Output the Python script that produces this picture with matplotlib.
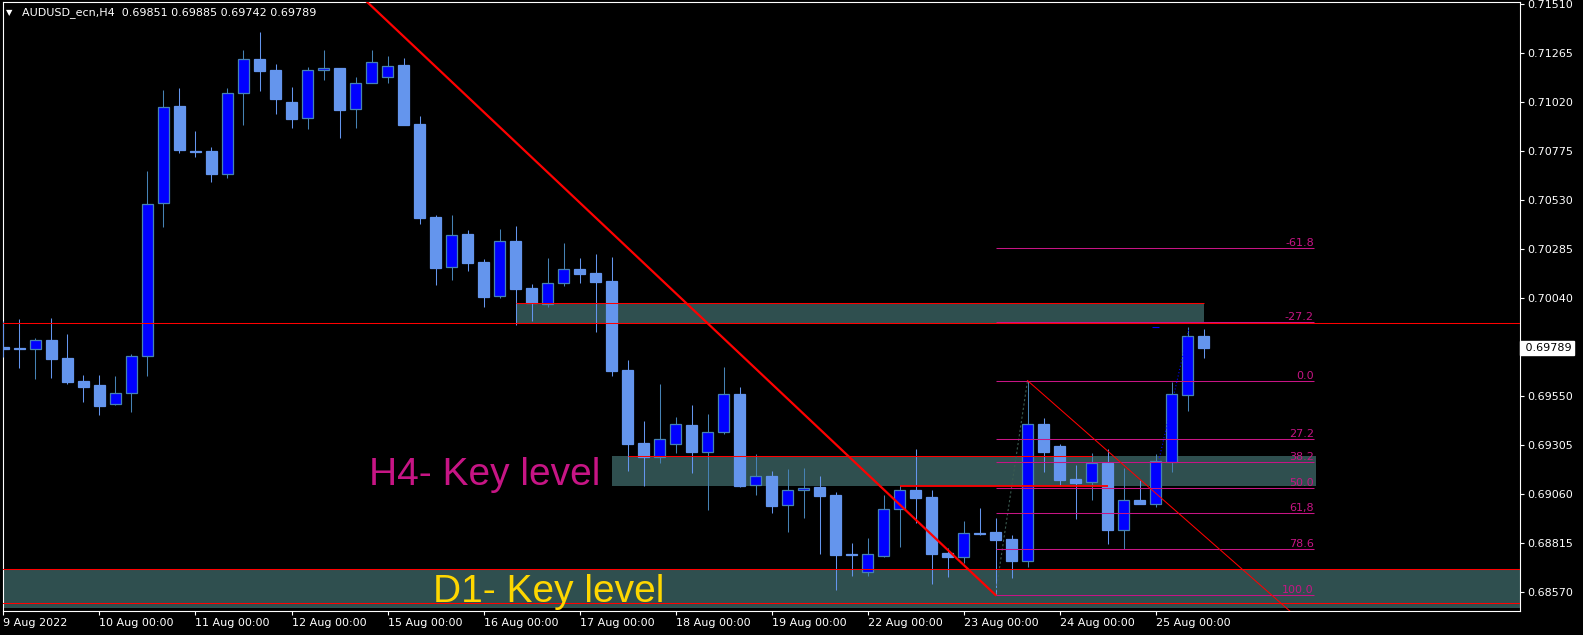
import matplotlib
matplotlib.use('Agg')
import matplotlib.pyplot as plt
import matplotlib.transforms as mtransforms
import numpy as np

# AUDUSD H4 candles, 9 Aug 2022 00:00 .. 25 Aug 2022 12:00
opens = [0.69795, 0.69790, 0.69784, 0.69829, 0.69739, 0.69625, 0.69605, 0.69509, 0.69564, 0.69749,
         0.70514, 0.71000, 0.70775, 0.70775, 0.70662, 0.71064, 0.71235, 0.71180, 0.71020, 0.70939,
         0.71179, 0.71190, 0.70984, 0.71114, 0.71144, 0.71205, 0.70910, 0.70445, 0.70194, 0.70360,
         0.70220, 0.70049, 0.70325, 0.70090, 0.70010, 0.70114, 0.70185, 0.70164, 0.70125, 0.69680,
         0.69314, 0.69247, 0.69309, 0.69404, 0.69272, 0.69369, 0.69560, 0.69104, 0.69150, 0.69004,
         0.69079, 0.69095, 0.69055, 0.68760, 0.68669, 0.68752, 0.68984, 0.69080, 0.69045, 0.68765,
         0.68747, 0.68867, 0.68870, 0.68835, 0.68727, 0.69410, 0.69300, 0.69137, 0.69119, 0.69217,
         0.68882, 0.69030, 0.69012, 0.69222, 0.69557, 0.69851]
highs = [0.69925, 0.69935, 0.69840, 0.69940, 0.69860, 0.69655, 0.69655, 0.69650, 0.69760, 0.70675,
         0.71080, 0.71090, 0.70875, 0.70795, 0.71090, 0.71280, 0.71370, 0.71210, 0.71095, 0.71195,
         0.71280, 0.71190, 0.71145, 0.71280, 0.71250, 0.71240, 0.70950, 0.70455, 0.70455, 0.70380,
         0.70235, 0.70385, 0.70400, 0.70110, 0.70240, 0.70315, 0.70240, 0.70260, 0.70245, 0.69729,
         0.69425, 0.69610, 0.69444, 0.69505, 0.69460, 0.69695, 0.69594, 0.69260, 0.69177, 0.69185,
         0.69190, 0.69150, 0.69069, 0.68815, 0.68840, 0.69055, 0.69104, 0.69285, 0.69080, 0.68789,
         0.68925, 0.68992, 0.68942, 0.68857, 0.69627, 0.69440, 0.69309, 0.69205, 0.69265, 0.69284,
         0.69190, 0.69132, 0.69259, 0.69620, 0.69897, 0.69885]
lows = [0.69745, 0.69690, 0.69637, 0.69642, 0.69612, 0.69522, 0.69457, 0.69505, 0.69472, 0.69652,
        0.70397, 0.70767, 0.70747, 0.70622, 0.70642, 0.70907, 0.71077, 0.70962, 0.70892, 0.70887,
        0.71130, 0.70842, 0.70892, 0.71114, 0.71117, 0.70907, 0.70412, 0.70105, 0.70132, 0.70177,
        0.69997, 0.70042, 0.69907, 0.69927, 0.69997, 0.70102, 0.70117, 0.69872, 0.69652, 0.69177,
        0.69102, 0.69217, 0.69267, 0.69167, 0.68982, 0.69359, 0.69094, 0.69057, 0.68967, 0.68872,
        0.68942, 0.68762, 0.68582, 0.68650, 0.68652, 0.68747, 0.68795, 0.68914, 0.68610, 0.68645,
        0.68714, 0.68857, 0.68557, 0.68642, 0.68697, 0.69172, 0.69100, 0.68935, 0.69030, 0.68812,
        0.68785, 0.69010, 0.68994, 0.69172, 0.69477, 0.69742]
closes = [0.69785, 0.69783, 0.69829, 0.69737, 0.69622, 0.69597, 0.69502, 0.69564, 0.69749, 0.70509,
          0.70994, 0.70782, 0.70772, 0.70662, 0.71064, 0.71234, 0.71177, 0.71037, 0.70937, 0.71179,
          0.71189, 0.70982, 0.71115, 0.71219, 0.71199, 0.70907, 0.70442, 0.70192, 0.70354, 0.70217,
          0.70047, 0.70325, 0.70087, 0.70014, 0.70114, 0.70184, 0.70162, 0.70122, 0.69677, 0.69312,
          0.69247, 0.69334, 0.69409, 0.69272, 0.69369, 0.69559, 0.69102, 0.69149, 0.69002, 0.69079,
          0.69089, 0.69052, 0.68757, 0.68757, 0.68759, 0.68984, 0.69079, 0.69042, 0.68762, 0.68747,
          0.68864, 0.68860, 0.68830, 0.68727, 0.69409, 0.69272, 0.69132, 0.69117, 0.69215, 0.68882,
          0.69029, 0.69010, 0.69225, 0.69560, 0.69850, 0.69789]

day_index = [0, 6, 12, 18, 24, 30, 36, 42, 48, 54, 60, 66, 72]
day_labels = ['9 Aug 2022', '10 Aug 00:00', '11 Aug 00:00', '12 Aug 00:00', '15 Aug 00:00',
              '16 Aug 00:00', '17 Aug 00:00', '18 Aug 00:00', '19 Aug 00:00', '22 Aug 00:00',
              '23 Aug 00:00', '24 Aug 00:00', '25 Aug 00:00']
price_ticks = [0.71510, 0.71265, 0.71020, 0.70775, 0.70530, 0.70285, 0.70040,
               0.69550, 0.69305, 0.69060, 0.68815, 0.68570]
last_price = 0.69789

# chart objects (bar index, price)
upper_zone = [32, 75, 0.69914, 0.70013]
h4_zone = [38, 82, 0.69102, 0.69252]
d1_zone = [0.68492, 0.68683]
red_hlines = [0.69914, 0.68683, 0.68514]
h4_top_seg = [39, 68, 0.69252]
h4_low_seg = [56, 69, 0.69099]
trend_main_x = [22, 62]
trend_main_y = [0.71575, 0.68555]
trend_thin_x = [64, 82]
trend_thin_y = [0.69627, 0.68362]
fib_x = [62, 64]
fib_y = [0.68557, 0.69627]
fib_levels = [-61.8, -27.2, 0.0, 27.2, 38.2, 50.0, 61.8, 78.6, 100.0]
fib_labels = ['-61.8', '-27.2', '0.0', '27.2', '38.2', '50.0', '61,8', '78.6', '100.0']
fib_end = 81.9

W, H = 1583, 635
fig = plt.figure(figsize=(W / 100, H / 100), dpi=100, facecolor='black')
ax = fig.add_axes([3 / W, 24 / H, 1517 / W, 609 / H])
ax.set_facecolor('black')
ax.set_xlim(-0.031, 94.78)
ax.set_ylim(0.68475, 0.71520)

o = np.array(opens)
c = np.array(closes)
hi = np.array(highs)
lo = np.array(lows)
x = np.arange(len(o))
bull = c > o

# zones in background
ax.fill_between(upper_zone[:2], upper_zone[2], upper_zone[3], color='#2F4F4F', lw=0, zorder=1)
ax.fill_between(h4_zone[:2], h4_zone[2], h4_zone[3], color='#2F4F4F', lw=0, zorder=1)
ax.axhspan(d1_zone[0], d1_zone[1], color='#2F4F4F', lw=0, zorder=1)

# candles
ax.vlines(x, lo, hi, colors=np.where(bull, '#4682B4', '#6495ED'), linewidth=0.75, zorder=3)
bot = np.minimum(o, c)
hgt = np.maximum(np.abs(c - o), 0.00002)
ax.bar(x[bull], hgt[bull], 0.64, bot[bull], color='#0000FF', edgecolor='#4682B4', linewidth=0.9, zorder=4)
ax.bar(x[~bull], hgt[~bull], 0.64, bot[~bull], color='#6495ED', edgecolor='#6495ED', linewidth=0.9, zorder=4)

# red lines
for p in red_hlines:
    ax.axhline(p, color='#FF0000', lw=0.75, zorder=5)
ax.hlines(upper_zone[3], upper_zone[0], upper_zone[1], color='#FF0000', lw=0.75, zorder=5)
ax.hlines(h4_top_seg[2], h4_top_seg[0], h4_top_seg[1], color='#FF0000', lw=0.75, zorder=5)
ax.hlines(h4_low_seg[2], h4_low_seg[0], h4_low_seg[1], color='#FF0000', lw=1.3, zorder=5)
ax.plot(trend_main_x, trend_main_y, color='#FF0000', lw=1.6, zorder=6)
ax.plot(trend_thin_x, trend_thin_y, color='#FF0000', lw=0.75, zorder=6)

# fibonacci
ax.plot(fib_x, fib_y, color='#3A5A50', lw=0.8, ls=(0, (2, 2)), zorder=5)
for lvl, lab in zip(fib_levels, fib_labels):
    p = fib_y[1] - lvl / 100 * (fib_y[1] - fib_y[0])
    ax.hlines(p, fib_x[0], fib_end, color='#C71585', lw=0.75, zorder=5)
    ax.text(fib_end, p, lab, ha='right', va='bottom', color='#C71585', fontsize=8, zorder=7)

# blue pointer trail near the last bars
ax.plot([72.2, 74.1], [0.69225, 0.69890], color='#0000FF', lw=0.8, ls=(0, (1, 2)), zorder=6)
ax.hlines(0.69894, 71.8, 72.2, color='#0000FF', lw=0.8, zorder=6)

# labels
ax.text(22.84, 0.69105, 'H4- Key level', fontsize=28, family='Liberation Sans',
        color='#C71585', ha='left', va='baseline', zorder=8)
ax.text(26.86, 0.68522, 'D1- Key level', fontsize=28, family='Liberation Sans',
        color='#FFD700', ha='left', va='baseline', zorder=8)

# axes
for s in ax.spines.values():
    s.set_color('white')
    s.set_linewidth(0.8)
ax.yaxis.tick_right()
ax.set_yticks(price_ticks)
ax.set_yticklabels(['%.5f' % p for p in price_ticks])
ax.set_xticks(day_index)
ax.set_xticklabels(day_labels)
plt.setp(ax.get_xticklabels(), ha='left')
ax.tick_params(axis='both', colors='white', labelsize=8, length=3, width=0.8, direction='out')
ax.tick_params(axis='x', pad=2)
ax.tick_params(axis='y', pad=2)

tr = mtransforms.blended_transform_factory(ax.transAxes, ax.transData)
ax.text(1.0015, last_price, ' %.5f' % last_price, transform=tr, ha='left', va='center',
        fontsize=8, color='black', zorder=9,
        bbox=dict(boxstyle='square,pad=0.2', fc='white', ec='white'), clip_on=False)

fig.text(6 / W, 1 - 12.5 / H, '\u25BC', color='white', fontsize=6, va='center', ha='left')
fig.text(22 / W, 1 - 12.5 / H, 'AUDUSD_ecn,H4  0.69851 0.69885 0.69742 0.69789',
         color='white', fontsize=8, va='center', ha='left')

fig.savefig('out.png', dpi=100, facecolor='black')
